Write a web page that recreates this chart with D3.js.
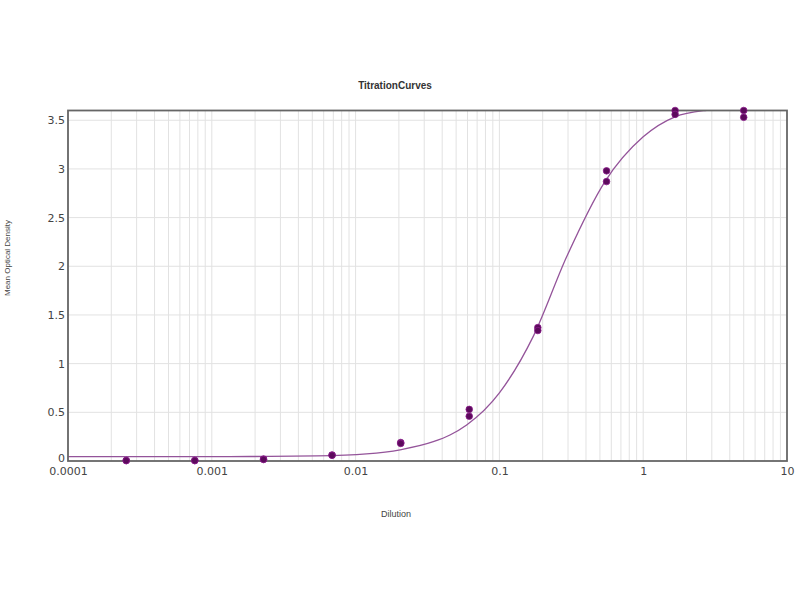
<!DOCTYPE html>
<html>
<head>
<meta charset="utf-8">
<script src="https://cdn.jsdelivr.net/npm/d3@7/dist/d3.min.js"></script>
<style>
  body { margin: 0; background: #fff; }
  svg { display: block; }
</style>
</head>
<body>
<svg id="chart" width="800" height="600"></svg>
<script>
// ---- data ----
const chartTitle = "TitrationCurves";
const xLabel = "Dilution";
const yLabel = "Mean Optical Density";
const dilutions = [5, 1.667, 0.556, 0.185, 0.0617, 0.0206, 0.00686, 0.00229, 0.000762, 0.000254];
const replicate1 = [3.60, 3.60, 2.98, 1.37, 0.53, 0.19, 0.062, 0.02, 0.005, 0.005];
const replicate2 = [3.53, 3.56, 2.87, 1.34, 0.46, 0.18, 0.058, 0.015, 0.004, 0.004];
// fitted curve
const curveX = [0.0001, 0.001, 0.00184, 0.00536, 0.0119, 0.0204, 0.0347, 0.0453, 0.0592, 0.1, 0.172, 0.294, 0.542, 1.0, 1.664, 2.69, 10];
const curveY = [0.045, 0.045, 0.046, 0.052, 0.073, 0.115, 0.198, 0.267, 0.37, 0.70, 1.28, 2.10, 2.87, 3.33, 3.535, 3.60, 3.65];
const xTickValues = [0.0001, 0.001, 0.01, 0.1, 1, 10];
const xTickLabels = ["0.0001", "0.001", "0.01", "0.1", "1", "10"];
const yTickValues = [0, 0.5, 1, 1.5, 2, 2.5, 3, 3.5];
const yTickLabels = ["0", "0.5", "1", "1.5", "2", "2.5", "3", "3.5"];

// ---- layout ----
const svg = d3.select("#chart");
const L = 68, R = 787, T = 110.5, B = 461;
const x = d3.scaleLog().domain([0.0001, 10]).range([L, R]);
const y = d3.scaleLinear().domain([0, 3.6]).range([B, T]);

// minor grid values
const gridX = [];
for (let e = -4; e < 1; e++) for (let m = 1; m <= 9; m++) gridX.push(m * Math.pow(10, e));

const g = svg.append("g");
g.selectAll("line.vg").data(gridX).join("line")
  .attr("x1", d => x(d)).attr("x2", d => x(d))
  .attr("y1", T).attr("y2", B)
  .attr("stroke", "#e2e2e2").attr("stroke-width", 1);
g.selectAll("line.hg").data(yTickValues.slice(1)).join("line")
  .attr("x1", L).attr("x2", R)
  .attr("y1", d => y(d)).attr("y2", d => y(d))
  .attr("stroke", "#e2e2e2").attr("stroke-width", 1);

// clip
svg.append("clipPath").attr("id", "clip").append("rect")
  .attr("x", L).attr("y", T).attr("width", R - L).attr("height", B - T);

// curve
const curvePts = curveX.map((d, i) => [d, curveY[i]]);
svg.append("path")
  .attr("clip-path", "url(#clip)")
  .attr("d", d3.line().x(d => x(d[0])).y(d => y(d[1])).curve(d3.curveMonotoneX)(curvePts))
  .attr("fill", "none").attr("stroke", "#94549a").attr("stroke-width", 1.3);

// frame
svg.append("rect").attr("x", L).attr("y", T).attr("width", R - L).attr("height", B - T)
  .attr("fill", "none").attr("stroke", "#666").attr("stroke-width", 1.8);

// points
const pts = [];
dilutions.forEach((d, i) => { pts.push([d, replicate1[i]]); pts.push([d, replicate2[i]]); });
svg.selectAll("circle.pt").data(pts).join("circle")
  .attr("cx", d => x(d[0])).attr("cy", d => y(d[1])).attr("r", 3.3)
  .attr("fill", "#5c0a5c").attr("stroke", "#8a1a8a").attr("stroke-width", 0.8);

// axes
const xAxis = d3.axisBottom(x).tickValues(xTickValues).tickFormat((d, i) => xTickLabels[i]).tickSize(0).tickPadding(6);
const xa = svg.append("g").attr("transform", `translate(0,${B})`).call(xAxis);
xa.select(".domain").remove();
xa.selectAll("text").attr("font-family", "DejaVu Sans, sans-serif").attr("font-size", 11).attr("fill", "#444");

const yAxis = d3.axisLeft(y).tickValues(yTickValues).tickFormat((d, i) => yTickLabels[i]).tickSize(0).tickPadding(3);
const ya = svg.append("g").attr("transform", `translate(${L},0)`).call(yAxis);
ya.select(".domain").remove();
ya.selectAll("text").attr("font-family", "DejaVu Sans, sans-serif").attr("font-size", 11).attr("fill", "#444");
ya.selectAll("text").filter(d => d === 0).attr("dy", "0.05em");

// titles
svg.append("text").attr("x", 395).attr("y", 89).attr("text-anchor", "middle")
  .attr("font-family", "Liberation Sans, Arial, sans-serif").attr("font-size", 10).attr("font-weight", "bold")
  .attr("fill", "#333").text(chartTitle);
svg.append("text").attr("x", 396).attr("y", 517).attr("text-anchor", "middle")
  .attr("font-family", "Liberation Sans, Arial, sans-serif").attr("font-size", 9)
  .attr("fill", "#444").text(xLabel);
svg.append("text").attr("transform", "translate(10,258) rotate(-90)").attr("text-anchor", "middle")
  .attr("font-family", "Liberation Sans, Arial, sans-serif").attr("font-size", 8)
  .attr("fill", "#444").text(yLabel);
</script>
</body>
</html>
